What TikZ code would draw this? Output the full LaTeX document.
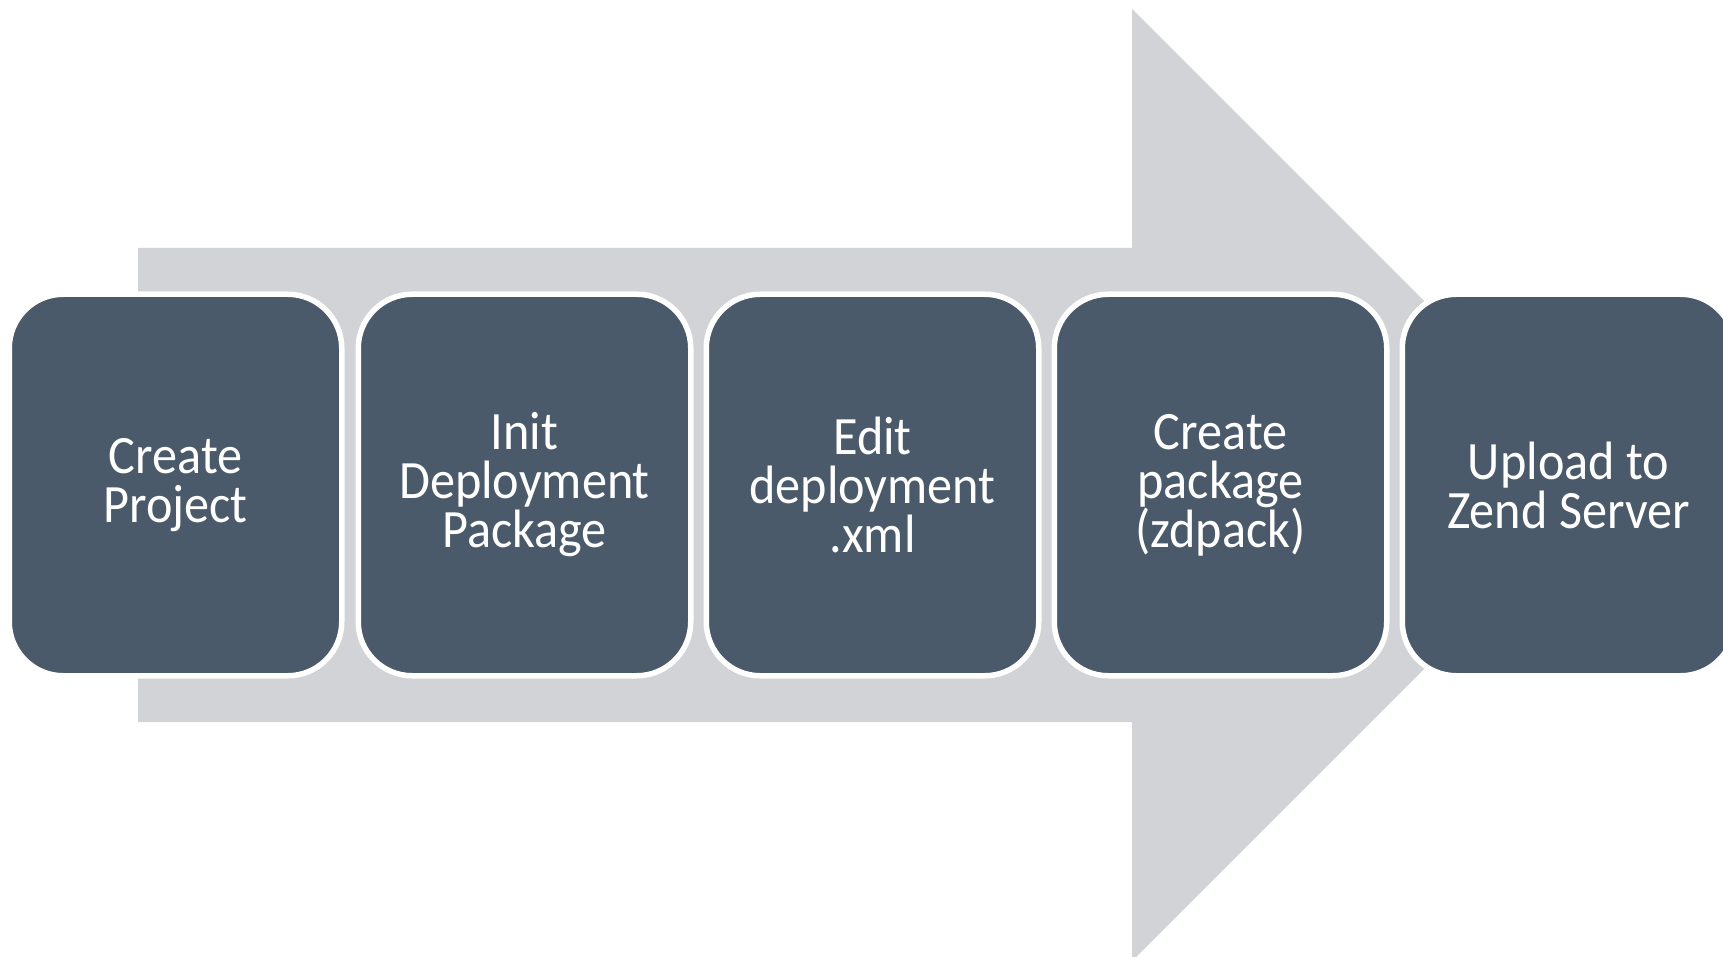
\documentclass[tikz,border=0pt]{standalone}
\usepackage{fontspec}
\setmainfont[FakeStretch=0.93]{Carlito}
\definecolor{slate}{HTML}{4B5A6A}
\definecolor{arrowgray}{HTML}{D1D3D6}
\tikzset{
  stepbox/.style={rectangle, draw=white, line width=5.5pt, fill=slate,
    rounded corners=54pt, minimum width=332.5pt, minimum height=381.5pt,
    inner sep=0pt, outer sep=0pt},
  steptext/.style={text=white, align=center, inner sep=0pt,
    font=\fontsize{54}{49}\selectfont}
}
\begin{document}
\begin{tikzpicture}[x=1pt,y=-1pt]
\clip (0,0) rectangle (1723,957);
\fill[white] (0,0) rectangle (1723,957);
% big arrow
\fill[arrowgray] (138,248) -- (1132,248) -- (1132,9) -- (1608,485) -- (1132,961) -- (1132,722) -- (138,722) -- cycle;
% boxes
\node[stepbox] (b1) at (175.5,485) {};
\node[stepbox] (b2) at (524.5,485) {};
\node[stepbox] (b3) at (872.5,485) {};
\node[stepbox] (b4) at (1220.5,485) {};
\node[stepbox] (b5) at (1568.5,485) {};
% texts
\node[steptext] (t1) at (b1.center) {Create\\Project};
\node[steptext] (t2) at (b2.center) {Init\\Deployment\\Package};
\node[steptext] (t3) at (b3.center) {Edit\\deployment\\.xml};
\node[steptext] (t4) at (b4.center) {Create\\package\\(zdpack)};
\node[steptext] (t5) at (b5.center) {Upload to\\Zend Server};
\end{tikzpicture}
\end{document}
